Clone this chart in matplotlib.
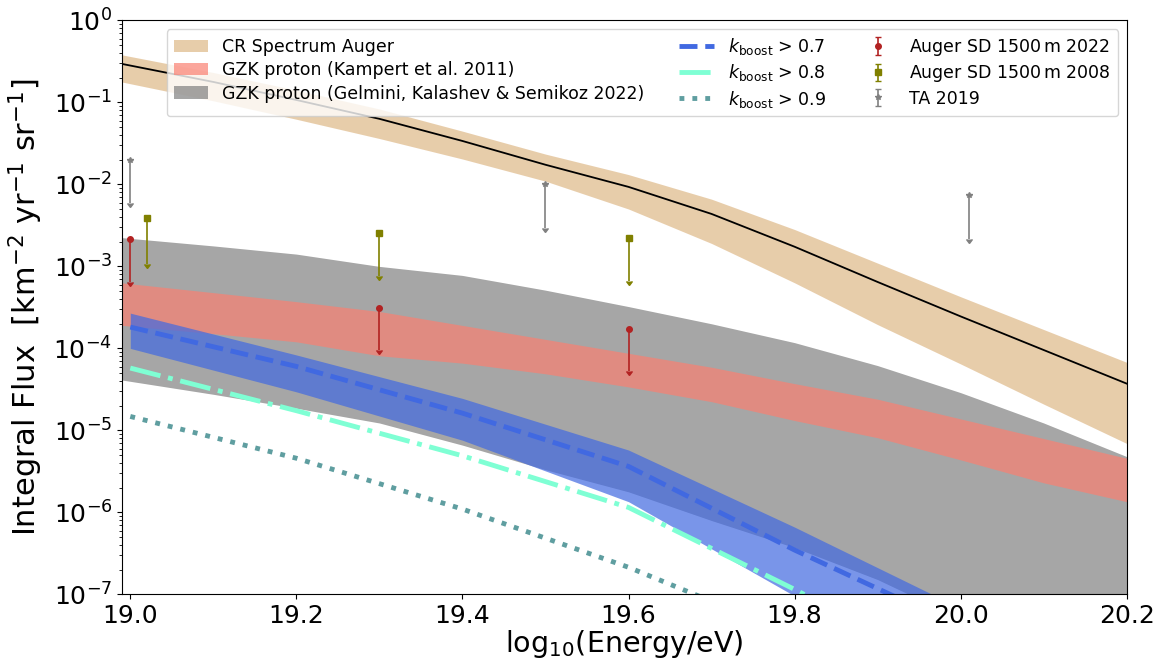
import matplotlib
matplotlib.use('Agg')
import matplotlib.pyplot as plt
import numpy as np

plt.rcParams.update({
    'font.family': 'DejaVu Sans',
    'xtick.labelsize': 18,
    'ytick.labelsize': 18,
    'legend.fontsize': 12.5,
})

# log10(E/eV) grid of the wide bands
E_band = [18.98, 19.1, 19.2, 19.3, 19.4, 19.5, 19.6, 19.7, 19.8, 19.9, 20.0, 20.1, 20.2]

# all fluxes below are log10 of integral flux [km^-2 yr^-1 sr^-1]
cr_mid = [-0.51, -0.75, -0.97, -1.20, -1.47, -1.76, -2.03, -2.36, -2.76, -3.19, -3.61, -4.02, -4.43]
cr_hi = [-0.40, -0.635, -0.85, -1.08, -1.35, -1.63, -1.88, -2.18, -2.55, -2.96, -3.37, -3.77, -4.17]
cr_lo = [-0.73, -0.98, -1.205, -1.44, -1.69, -1.96, -2.30, -2.72, -3.20, -3.71, -4.19, -4.68, -5.16]

kampert_hi = [-3.19, -3.32, -3.43, -3.55, -3.72, -3.89, -4.06, -4.23, -4.43, -4.62, -4.86, -5.10, -5.34]
kampert_lo = [-3.71, -3.82, -3.92, -4.09, -4.18, -4.31, -4.47, -4.65, -4.88, -5.09, -5.36, -5.64, -5.87]

gelmini_hi = [-2.64, -2.75, -2.85, -3.00, -3.11, -3.29, -3.49, -3.70, -3.93, -4.21, -4.54, -4.91, -5.32]
gelmini_lo = [-4.37, -4.56, -4.73, -4.91, -5.18, -5.48, -5.75, -6.10, -6.43, -6.82, -7.30, -7.80, -8.30]

# boosted-proton curves
E_boost = [19.0, 19.2, 19.4, 19.6, 19.8, 20.0]
boost07_hi = [-3.57, -4.08, -4.61, -5.24, -6.18, -7.17]
boost07_lo = [-4.00, -4.53, -5.12, -5.87, -7.02, -8.20]
boost07 = [-3.74, -4.22, -4.79, -5.44, -6.46, -7.40]
boost08 = [-4.24, -4.76, -5.31, -5.94, -6.94, -8.00]
boost09 = [-4.83, -5.34, -5.96, -6.67, -7.50, -8.40]

# upper limits: marker value and lower end of the arrow
E_auger22 = [19.0, 19.3, 19.6]
auger22_top = [-2.67, -3.505, -3.765]
auger22_low = [-3.19, -4.02, -4.28]

E_auger08 = [19.02, 19.3, 19.6]
auger08_top = [-2.415, -2.594, -2.651]
auger08_low = [-2.97, -3.12, -3.18]

E_ta = [19.0, 19.5, 20.01]
ta_top = [-1.704, -1.996, -2.13]
ta_low = [-2.23, -2.53, -2.66]


def lin(a):
    return 10.0 ** np.asarray(a)


def upper_limits(ax, E, top, low, color, marker, label):
    y = lin(top)
    err = y - lin(low)
    ax.errorbar(E, y, yerr=err, uplims=True, fmt=marker, color=color,
                ms=4, capsize=2, elinewidth=1.2, label=label, zorder=6)


fig, ax = plt.subplots(figsize=(11.64, 6.6), dpi=100)
fig.subplots_adjust(left=0.1048, right=0.968, bottom=0.0995, top=0.969)

ax.fill_between(E_band, lin(cr_lo), lin(cr_hi), color='burlywood', alpha=0.7,
                lw=0, label='CR Spectrum Auger')
ax.plot(E_band, lin(cr_mid), color='black', lw=1.3)
ax.fill_between(E_band, lin(gelmini_lo), lin(gelmini_hi), color='gray', alpha=0.7,
                lw=0, label='GZK proton (Gelmini, Kalashev & Semikoz 2022)')
ax.fill_between(E_band, lin(kampert_lo), lin(kampert_hi), color='salmon', alpha=0.7,
                lw=0, label='GZK proton (Kampert et al. 2011)')
ax.fill_between(E_boost, lin(boost07_lo), lin(boost07_hi), color='royalblue', alpha=0.7,
                lw=0)

ax.plot(E_boost, lin(boost07), '--', color='royalblue', lw=3.5,
        label=r'$k_\mathrm{boost}$ > 0.7')
ax.plot(E_boost, lin(boost08), '-.', color='aquamarine', lw=3.5,
        label=r'$k_\mathrm{boost}$ > 0.8')
ax.plot(E_boost, lin(boost09), ':', color='cadetblue', lw=3.5,
        label=r'$k_\mathrm{boost}$ > 0.9')

upper_limits(ax, E_auger22, auger22_top, auger22_low, 'firebrick', 'o',
             r'Auger SD 1500$\,$m 2022')
upper_limits(ax, E_auger08, auger08_top, auger08_low, 'olive', 's',
             r'Auger SD 1500$\,$m 2008')
upper_limits(ax, E_ta, ta_top, ta_low, 'gray', '*', 'TA 2019')

ax.set_yscale('log')
ax.set_xlim(18.99, 20.2)
ax.set_ylim(1e-7, 1)
ax.set_xticks([19.0, 19.2, 19.4, 19.6, 19.8, 20.0, 20.2])
ax.set_xlabel(r'log$_{10}$(Energy/eV)', fontsize=20.5, labelpad=0)
ax.set_ylabel(r'Integral Flux  [km$^{-2}$ yr$^{-1}$ sr$^{-1}$]', fontsize=22, labelpad=6)

handles, labels = ax.get_legend_handles_labels()
order = ['CR Spectrum Auger', 'GZK proton (Kampert et al. 2011)',
         'GZK proton (Gelmini, Kalashev & Semikoz 2022)',
         r'$k_\mathrm{boost}$ > 0.7', r'$k_\mathrm{boost}$ > 0.8',
         r'$k_\mathrm{boost}$ > 0.9',
         r'Auger SD 1500$\,$m 2022', r'Auger SD 1500$\,$m 2008', 'TA 2019']
lookup = dict(zip(labels, handles))
ax.legend([lookup[k] for k in order], order, ncol=3, loc='upper right',
          labelspacing=0.3)

fig.savefig('out.png', dpi=100)
